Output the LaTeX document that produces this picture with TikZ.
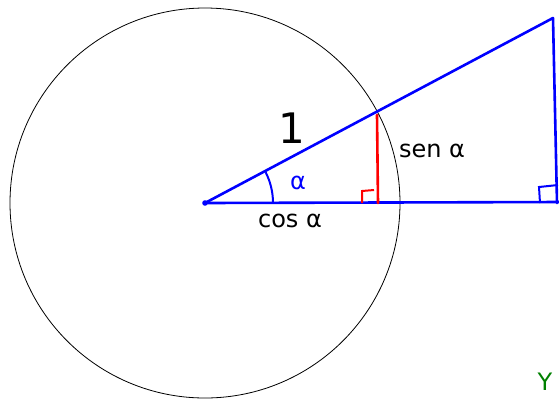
\documentclass[tikz,border=0pt]{standalone}
\usepackage{fontspec}
\setmainfont{DejaVu Sans}
\begin{document}
\begin{tikzpicture}[x=1pt,y=-1pt,
  blueln/.style={draw=blue,line width=2.6pt,line cap=round,line join=round},
  redln/.style={draw=red,line width=2.6pt,line cap=round,line join=round},
  lbl/.style={inner sep=0pt,font=\fontsize{24}{26}\selectfont}]
\useasboundingbox (0,0) rectangle (559,400);
\coordinate (O) at (205,203);
\coordinate (P) at (377,115);
\coordinate (Q) at (378,203);
\coordinate (T) at (553,18);
\coordinate (B) at (557,203);
\coordinate (E) at (562,202);
% circle
\draw[line width=0.8pt] (O) circle[radius=195];
% blue triangle
\draw[blueln] (O) -- (T) -- (B);
\draw[blueln] (O) -- (E);
\fill[blue] (O) circle[radius=2.8];
% right-angle mark big
\draw[draw=blue,line width=2pt] (540,203) -- (539,187) -- (558,185);
% red
\draw[redln] (P) -- (Q);
\draw[draw=red,line width=2pt] (362,203) -- (362,191) -- (374,190);
% angle arc
\draw[draw=blue,line width=2pt] (O) ++(-1:68) arc[start angle=-1,end angle=-27,radius=68];
% labels
\node[lbl,font=\fontsize{42}{44}\selectfont] (one) at (292,128) {1};
\node[lbl] (sen) at (432,151) {sen α};
\node[lbl,text=blue] (alpha) at (298,183) {α};
\node[lbl] (cos) at (290,221) {cos α};
\node[lbl,text=green!50!black,font=\fontsize{24}{26}\selectfont] (y) at (545,382) {Y};
\end{tikzpicture}
\end{document}
